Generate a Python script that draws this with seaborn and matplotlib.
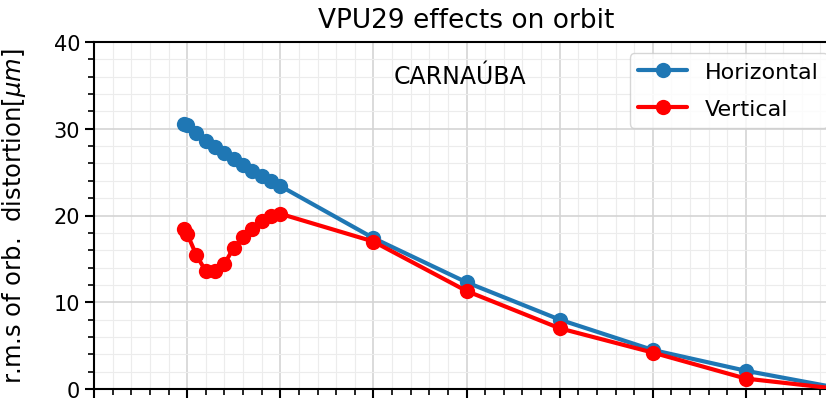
import matplotlib
matplotlib.use("Agg")
import matplotlib.pyplot as plt
import seaborn as sns
import pandas as pd
from matplotlib.ticker import MultipleLocator

# ---- data ----
gap = [9.7, 10, 11, 12, 13, 14, 15, 16, 17, 18, 19, 20, 30, 40, 50, 60, 70, 80]
horizontal = [30.6, 30.4, 29.5, 28.6, 27.9, 27.2, 26.5, 25.8, 25.1, 24.6, 24.0, 23.4,
              17.4, 12.3, 8.0, 4.5, 2.1, 0.1]
vertical = [18.4, 17.9, 15.4, 13.6, 13.6, 14.4, 16.3, 17.5, 18.4, 19.4, 19.9, 20.2,
            17.0, 11.3, 7.0, 4.2, 1.2, 0.0]
series_names = ["Horizontal", "Vertical"]
series_colors = ["#1f77b4", "#ff0000"]

title = "VPU29 effects on orbit"
ylabel = r"r.m.s of orb.  distortion[$\mu m$]"
annotation = "CARNAÚBA"

df = pd.concat([
    pd.DataFrame({"gap": gap, "rms": horizontal, "plane": series_names[0]}),
    pd.DataFrame({"gap": gap, "rms": vertical, "plane": series_names[1]}),
], ignore_index=True)

sns.set_style("ticks")
plt.rcParams["font.family"] = ["DejaVu Sans"]
plt.rcParams["mathtext.fontset"] = "dejavusans"
plt.rcParams["text.color"] = "black"
plt.rcParams["axes.labelcolor"] = "black"
plt.rcParams["xtick.color"] = "black"
plt.rcParams["ytick.color"] = "black"

W, H = 826, 402
fig = plt.figure(figsize=(W / 100, H / 100), dpi=100)
left, right, top, bottom = 94, 839, 43, 390
ax = fig.add_axes([left / W, (H - bottom) / H, (right - left) / W, (bottom - top) / H])

sns.lineplot(data=df, x="gap", y="rms", hue="plane",
             palette=dict(zip(series_names, series_colors)),
             marker="o", markersize=11, markeredgewidth=0, linewidth=3,
             ax=ax, zorder=3)

ax.set_xlim(0, 80)
ax.set_ylim(0, 40)
ax.xaxis.set_major_locator(MultipleLocator(10))
ax.xaxis.set_minor_locator(MultipleLocator(2))
ax.yaxis.set_major_locator(MultipleLocator(10))
ax.yaxis.set_minor_locator(MultipleLocator(2))
ax.grid(which="major", color="#d4d4d4", linewidth=1.2)
ax.grid(which="minor", color="#ececec", linewidth=0.8)
ax.set_axisbelow(True)

for s in ax.spines.values():
    s.set_linewidth(1.5)
    s.set_color("black")
    s.set_visible(True)
ax.tick_params(which="major", direction="out", length=6.5, width=1.5, labelsize=15, colors="black")
ax.tick_params(which="minor", direction="out", length=4, width=1.2)
# x tick labels lie below the visible area in the reference
ax.tick_params(axis="x", labelbottom=False)

ax.set_xlabel("")
ax.set_ylabel(ylabel, fontsize=17.5, color="black")
ax.yaxis.set_label_coords(-0.088, 0.5)
ax.set_title(title, fontsize=19, pad=11, color="black")

ax.text(39.3, 36.1, annotation, ha="center", va="center", fontsize=17, color="black")

leg = ax.legend(loc="upper right", fontsize=16, frameon=True, fancybox=True,
                framealpha=0.8, edgecolor="#cccccc", handlelength=2.2,
                labelspacing=0.75)
leg.set_title(None)
for t in leg.get_texts():
    t.set_color("black")

fig.savefig("out.png", dpi=100)
